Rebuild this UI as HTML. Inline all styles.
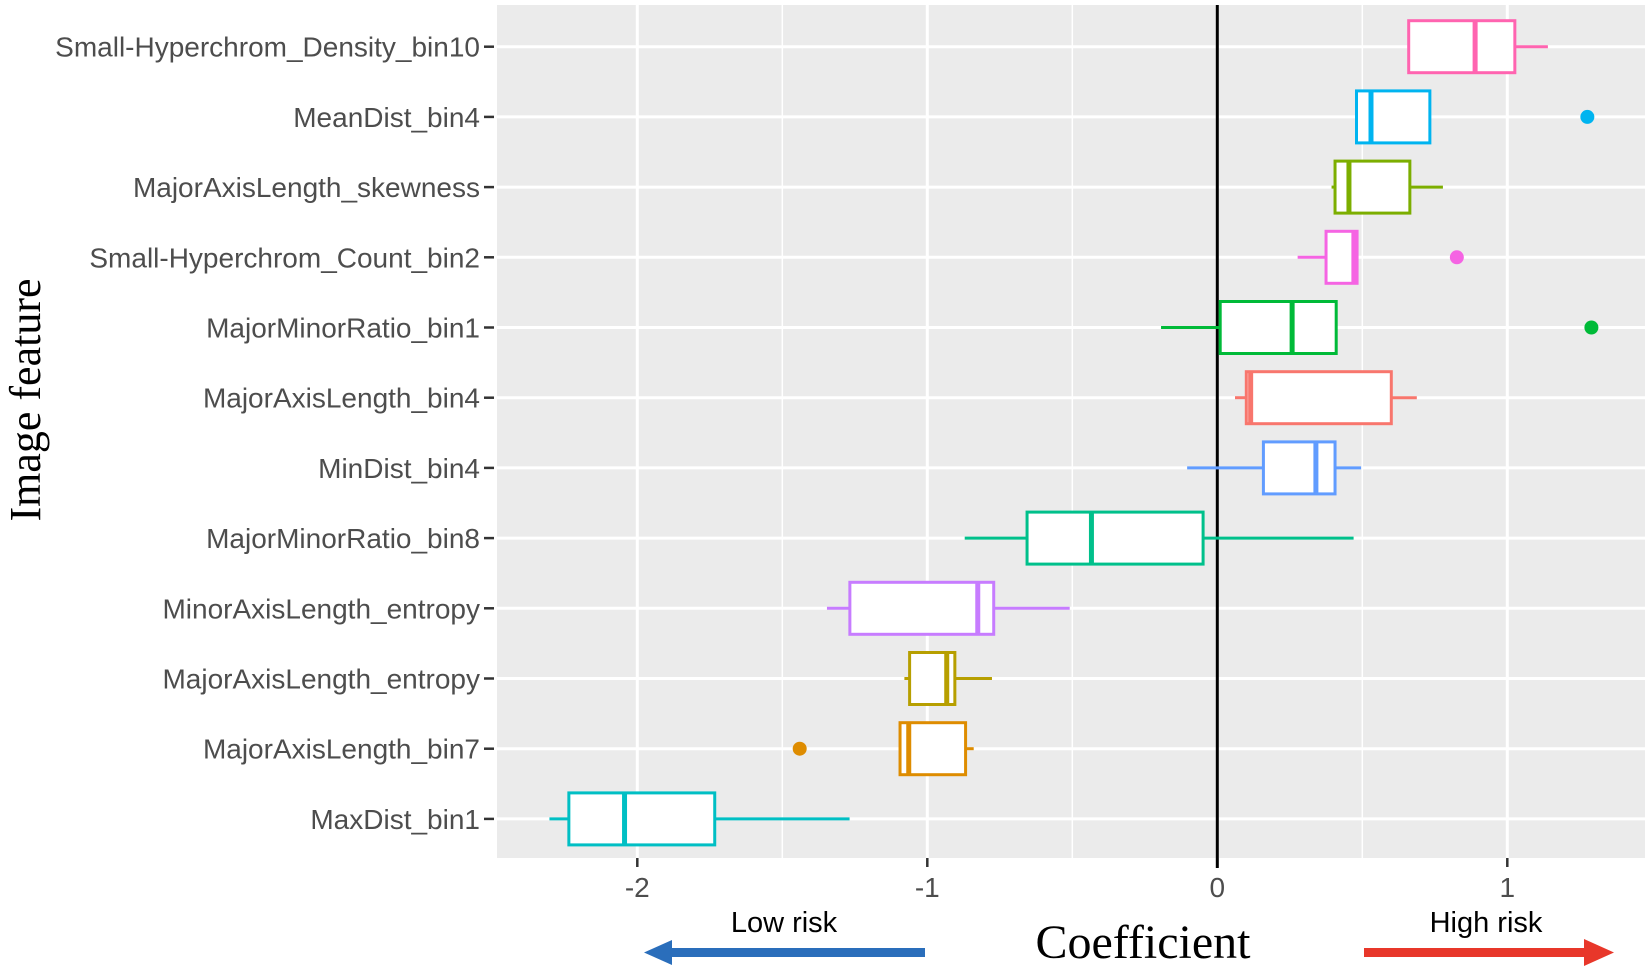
<!DOCTYPE html>
<html><head><meta charset="utf-8"><style>
html,body{margin:0;padding:0;background:#fff;width:1650px;height:971px;overflow:hidden}
svg{display:block}
</style></head><body>
<svg id="chart" width="1650" height="971" xmlns="http://www.w3.org/2000/svg"></svg>
<script>
const categories=["Small-Hyperchrom_Density_bin10","MeanDist_bin4","MajorAxisLength_skewness","Small-Hyperchrom_Count_bin2","MajorMinorRatio_bin1","MajorAxisLength_bin4","MinDist_bin4","MajorMinorRatio_bin8","MinorAxisLength_entropy","MajorAxisLength_entropy","MajorAxisLength_bin7","MaxDist_bin1"];
const whiskerLow=[0.66,0.48,0.394,0.277,-0.194,0.061,-0.104,-0.871,-1.346,-1.079,-1.094,-2.303];
const q1=[0.66,0.48,0.406,0.375,0.01,0.10,0.159,-0.656,-1.267,-1.061,-1.094,-2.236];
const medians=[0.889,0.53,0.454,0.471,0.258,0.115,0.34,-0.434,-0.826,-0.933,-1.064,-2.044];
const q3=[1.026,0.733,0.664,0.482,0.41,0.60,0.406,-0.049,-0.771,-0.905,-0.868,-1.733];
const whiskerHigh=[1.14,0.733,0.778,0.482,0.41,0.688,0.496,0.47,-0.509,-0.777,-0.84,-1.268];
const outliers=[null,1.276,null,0.826,1.29,null,null,null,null,null,-1.44,null];
const colors=["#FF64B0","#00B4F0","#7CAE00","#F564E3","#00BA38","#F8766D","#619CFF","#00C08B","#C77CFF","#B79F00","#DE8C00","#00BFC4"];
const xTicks=[-2,-1,0,1];
const xTickLabels=["-2","-1","0","1"];

const NS="http://www.w3.org/2000/svg";
const svg=document.getElementById("chart");
const PL=497,PR=1645,PT=5,PB=858;
const x=v=>1217.3+v*290;
const y=i=>46.7+i*70.2;
function mk(tag,attrs,parent){const e=document.createElementNS(NS,tag);for(const k in attrs)e.setAttribute(k,attrs[k]);(parent||svg).appendChild(e);return e;}

const panel=mk("rect",{x:PL,y:PT,width:PR-PL,height:PB-PT,fill:"#EBEBEB"});


for(let v=-2.5;v<=1.5;v+=1){const xv=x(v);if(xv<PL||xv>PR)continue;const g=mk("line",{x1:xv,x2:xv,y1:PT,y2:PB,stroke:"#fff","stroke-width":1.5});

}
xTicks.forEach((v,k)=>{const g=mk("line",{x1:x(v),x2:x(v),y1:PT,y2:PB,stroke:"#fff","stroke-width":3});


const t=mk("line",{x1:x(v),x2:x(v),y1:PB,y2:PB+9,stroke:"#333","stroke-width":2.5});


const l=mk("text",{x:x(v),y:PB+39,"text-anchor":"middle","font-family":"Liberation Sans, sans-serif","font-size":28,fill:"#4d4d4d"});l.textContent=xTickLabels[k];

});
categories.forEach((c,i)=>{const g=mk("line",{x1:PL,x2:PR,y1:y(i),y2:y(i),stroke:"#fff","stroke-width":3});


const t=mk("line",{x1:484,x2:494,y1:y(i),y2:y(i),stroke:"#333","stroke-width":2.5});


const l=mk("text",{x:480,y:y(i)+10,"text-anchor":"end","font-family":"Liberation Sans, sans-serif","font-size":28,fill:"#4d4d4d"});l.textContent=c;

});
const zl=mk("line",{x1:x(0),x2:x(0),y1:PT,y2:PB+10,stroke:"#000","stroke-width":3});


categories.forEach((c,i)=>{const g=mk("g",{});


const col=colors[i],cy=y(i),h=26;
mk("line",{x1:x(whiskerLow[i]),x2:x(q1[i]),y1:cy,y2:cy,stroke:col,"stroke-width":3},g);
mk("line",{x1:x(q3[i]),x2:x(whiskerHigh[i]),y1:cy,y2:cy,stroke:col,"stroke-width":3},g);
mk("rect",{x:x(q1[i]),y:cy-h,width:x(q3[i])-x(q1[i]),height:2*h,fill:"#fff",stroke:col,"stroke-width":3},g);
mk("line",{x1:x(medians[i]),x2:x(medians[i]),y1:cy-h,y2:cy+h,stroke:col,"stroke-width":5},g);
if(outliers[i]!==null){mk("circle",{cx:x(outliers[i]),cy:cy,r:7,fill:col},g);}
});
function txt(s,attrs,name){const t=mk("text",attrs);t.textContent=s;

return t;}
txt("Image feature",{x:0,y:0,transform:"translate(40,400) rotate(-90)","text-anchor":"middle","font-family":"Liberation Serif, serif","font-size":44,fill:"#000"},"y-axis-title");
txt("Coefficient",{x:1143,y:958,"text-anchor":"middle","font-family":"Liberation Serif, serif","font-size":48,fill:"#000"},"x-axis-title");
txt("Low risk",{x:784,y:932,"text-anchor":"middle","font-family":"Liberation Sans, sans-serif","font-size":29,fill:"#000"},"low-risk-label");
txt("High risk",{x:1486,y:932,"text-anchor":"middle","font-family":"Liberation Sans, sans-serif","font-size":29,fill:"#000"},"high-risk-label");
const la=mk("g",{});


mk("rect",{x:665,y:948,width:260,height:9,fill:"#2A6EBB"},la);
mk("polygon",{points:"644,952.5 672,940 672,965",fill:"#2A6EBB"},la);
const ha=mk("g",{});


mk("rect",{x:1364,y:948,width:225,height:9,fill:"#E8372A"},ha);
mk("polygon",{points:"1614,952.5 1584,939 1584,966",fill:"#E8372A"},ha);
</script>
</body></html>
